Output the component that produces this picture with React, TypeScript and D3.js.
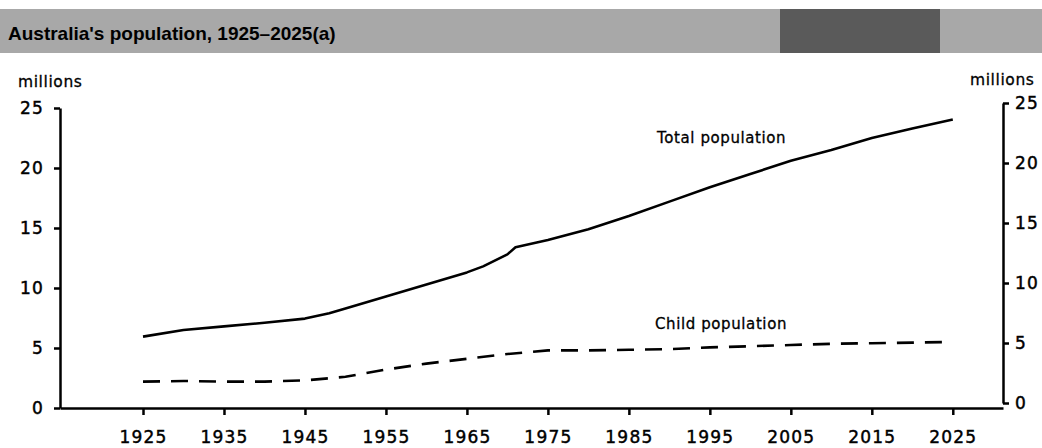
import React, { useEffect, useRef } from "react";
import * as d3 from "d3";

const years = [1925, 1930, 1935, 1940, 1945, 1948, 1950, 1955, 1960, 1965, 1967, 1970, 1971, 1975, 1980, 1985, 1990, 1995, 2000, 2005, 2010, 2015, 2020, 2025];
const totalPop = [5.95, 6.5, 6.8, 7.1, 7.45, 7.9, 8.3, 9.3, 10.3, 11.3, 11.8, 12.8, 13.4, 14.0, 14.9, 16.0, 17.2, 18.4, 19.5, 20.6, 21.5, 22.5, 23.3, 24.05];
const childYears = [1925, 1930, 1935, 1940, 1945, 1950, 1955, 1960, 1965, 1970, 1975, 1980, 1985, 1990, 1995, 2000, 2005, 2010, 2015, 2020, 2025];
const childPop = [2.2, 2.25, 2.2, 2.2, 2.3, 2.6, 3.2, 3.7, 4.1, 4.5, 4.8, 4.8, 4.85, 4.9, 5.05, 5.15, 5.25, 5.35, 5.4, 5.45, 5.5];
const xTicks = [1925, 1935, 1945, 1955, 1965, 1975, 1985, 1995, 2005, 2015, 2025];
const yTicks = [0, 5, 10, 15, 20, 25];
const title = "Australia's population, 1925–2025(a)";
const unitLabel = "millions";
const seriesLabels = ["Total population", "Child population"];

const W = 1042;
const H = 448;
const TICK_FONT = "'DejaVu Sans', Verdana, sans-serif";

export default function App() {
  const leftRef = useRef<SVGGElement>(null);
  const rightRef = useRef<SVGGElement>(null);
  const bottomRef = useRef<SVGGElement>(null);

  const x = d3.scaleLinear().domain([1914.75, 2031.2]).range([60, 1003]);
  const yL = d3.scaleLinear().domain([0, 25]).range([408, 108]);
  const yR = d3.scaleLinear().domain([0, 25]).range([403, 103]);

  const totalData = years.map((yr, i) => [yr, totalPop[i]] as [number, number]);
  const childData = childYears.map((yr, i) => [yr, childPop[i]] as [number, number]);
  const line = d3
    .line<[number, number]>()
    .x((d) => x(d[0]))
    .y((d) => yL(d[1]));

  useEffect(() => {
    const style = (g: d3.Selection<SVGGElement, unknown, null, undefined>) => {
      g.selectAll(".domain").attr("stroke", "#000").attr("stroke-width", 2.5);
      g.selectAll(".tick line").attr("stroke", "#000").attr("stroke-width", 2.5);
      g.selectAll(".tick text")
        .attr("fill", "#000")
        .attr("stroke", "#000")
        .attr("stroke-width", 0.45)
        .style("font-family", TICK_FONT)
        .style("font-size", "17px")
        .style("letter-spacing", "1.2px");
    };
    if (leftRef.current) {
      const g = d3.select(leftRef.current);
      g.call(d3.axisLeft(yL).tickValues(yTicks).tickSize(6).tickSizeOuter(0).tickPadding(10).tickFormat(d3.format("d")) as any);
      style(g);
    }
    if (rightRef.current) {
      const g = d3.select(rightRef.current);
      g.call(d3.axisRight(yR).tickValues(yTicks).tickSize(6).tickSizeOuter(0).tickPadding(6).tickFormat(d3.format("d")) as any);
      style(g);
    }
    if (bottomRef.current) {
      const g = d3.select(bottomRef.current);
      g.call(d3.axisBottom(x).tickValues(xTicks).tickSize(7).tickSizeOuter(0).tickPadding(16).tickFormat(d3.format("d")) as any);
      style(g);
    }
  }, []);

  return (
    <svg
      width={W}
      height={H}
      viewBox={`0 0 ${W} ${H}`}
      style={{ position: "absolute", left: 0, top: 0, background: "#fff" }}
    >
      <rect x={0} y={0} width={W} height={H} fill="#fff" />
      {/* title band */}
      <rect x={0} y={9} width={W} height={44} fill="#a8a8a8" />
      <rect x={780} y={9} width={160} height={44} fill="#5a5a5a" />
      <text
        x={8}
        y={40}
        fontFamily="'Liberation Sans', Arial, sans-serif"
        fontWeight="bold"
        fontSize={19}
        fill="#000"
      >
        {title}
      </text>

      <text x={18} y={87} fontFamily={TICK_FONT} fontSize={15.5} letterSpacing={0.6} fill="#000" stroke="#000" strokeWidth={0.3}>
        {unitLabel}
      </text>
      <text x={970} y={85} fontFamily={TICK_FONT} fontSize={15.5} letterSpacing={0.6} fill="#000" stroke="#000" strokeWidth={0.3}>
        {unitLabel}
      </text>

      <g ref={leftRef} transform={`translate(${x(1914.75)},0)`} />
      <g ref={rightRef} transform={`translate(${x(2031.2)},0)`} />
      <g ref={bottomRef} transform={`translate(0,${yL(0)})`} />

      <path d={line(totalData) || ""} fill="none" stroke="#000" strokeWidth={2.6} strokeLinejoin="round" />
      <path
        d={line(childData) || ""}
        fill="none"
        stroke="#000"
        strokeWidth={2.6}
        strokeDasharray="17 11"
      />

      <text x={657} y={143} fontFamily={TICK_FONT} fontSize={15} letterSpacing={0.6} fill="#000" stroke="#000" strokeWidth={0.3}>
        {seriesLabels[0]}
      </text>
      <text x={655} y={329} fontFamily={TICK_FONT} fontSize={15} letterSpacing={0.6} fill="#000" stroke="#000" strokeWidth={0.3}>
        {seriesLabels[1]}
      </text>
    </svg>
  );
}
